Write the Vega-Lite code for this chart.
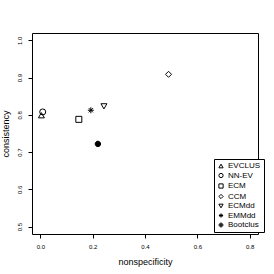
{
  "$schema": "https://vega.github.io/schema/vega-lite/v6.json",
  "autosize": "none",
  "width": 226,
  "height": 201,
  "padding": {"left": 32, "top": 33, "right": 16, "bottom": 40},
  "background": "white",
  "data": {
    "values": [
      {"method": "EVCLUS", "nonspecificity": 0.004, "consistency": 0.799},
      {"method": "NN-EV", "nonspecificity": 0.009, "consistency": 0.808},
      {"method": "ECM", "nonspecificity": 0.147, "consistency": 0.788},
      {"method": "CCM", "nonspecificity": 0.49, "consistency": 0.909},
      {"method": "ECMdd", "nonspecificity": 0.243, "consistency": 0.823},
      {"method": "EMMdd", "nonspecificity": 0.193, "consistency": 0.8125},
      {"method": "Bootclus", "nonspecificity": 0.22, "consistency": 0.722}
    ]
  },
  "mark": {"type": "point", "filled": false, "stroke": "black", "strokeWidth": 1, "size": 36, "opacity": 1},
  "encoding": {
    "x": {
      "field": "nonspecificity", "type": "quantitative", "title": "nonspecificity",
      "scale": {"domain": [-0.032, 0.832], "nice": false, "zero": false},
      "axis": {"values": [0, 0.2, 0.4, 0.6, 0.8], "format": ".1f", "labelPadding": 5, "titlePadding": 8}
    },
    "y": {
      "field": "consistency", "type": "quantitative", "title": "consistency",
      "scale": {"domain": [0.48, 1.02], "nice": false, "zero": false},
      "axis": {"values": [0.5, 0.6, 0.7, 0.8, 0.9, 1.0], "format": ".1f", "labelAngle": -90, "labelAlign": "center", "labelBaseline": "bottom", "labelPadding": 6, "titlePadding": 6}
    },
    "shape": {
      "field": "method", "type": "nominal",
      "scale": {
        "domain": ["EVCLUS", "NN-EV", "ECM", "CCM", "ECMdd", "EMMdd", "Bootclus"],
        "range": [
          "triangle-up", "circle", "square", "diamond", "triangle-down",
          "M-1,0H1M0,-1V1M-0.7,-0.7L0.7,0.7M-0.7,0.7L0.7,-0.7",
          "M0.9,0A0.9,0.9,0,1,1,-0.9,0A0.9,0.9,0,1,1,0.9,0ZM0.55,0A0.55,0.55,0,1,1,-0.55,0A0.55,0.55,0,1,1,0.55,0ZM0.2,0A0.2,0.2,0,1,1,-0.2,0A0.2,0.2,0,1,1,0.2,0Z"
        ]
      },
      "legend": {
        "title": null, "orient": "none", "legendX": 182, "legendY": 126,
        "encode": {
          "labels": {"update": {"fill": {"value": "black"}}}
        }
      }
    },
    "fill": {
      "condition": {"test": "datum.method === 'Bootclus'", "value": "black"},
      "value": "transparent"
    }
  },
  "config": {
    "font": "Liberation Sans",
    "view": {"stroke": "black", "strokeWidth": 1},
    "axis": {
      "grid": false, "domain": false, "tickColor": "black", "tickSize": 4, "tickWidth": 1,
      "labelFont": "Liberation Sans", "labelFontSize": 6, "labelColor": "black",
      "titleFont": "Liberation Sans", "titleFontSize": 9, "titleFontWeight": "normal", "titleColor": "black"
    },
    "legend": {
      "strokeColor": "black", "fillColor": "white", "padding": 3,
      "labelFont": "Liberation Sans", "labelFontSize": 8, "labelColor": "black",
      "symbolSize": 18, "symbolStrokeColor": "black", "symbolStrokeWidth": 1,
      "rowPadding": 0.5, "labelOffset": 3, "cornerRadius": 0
    }
  }
}
